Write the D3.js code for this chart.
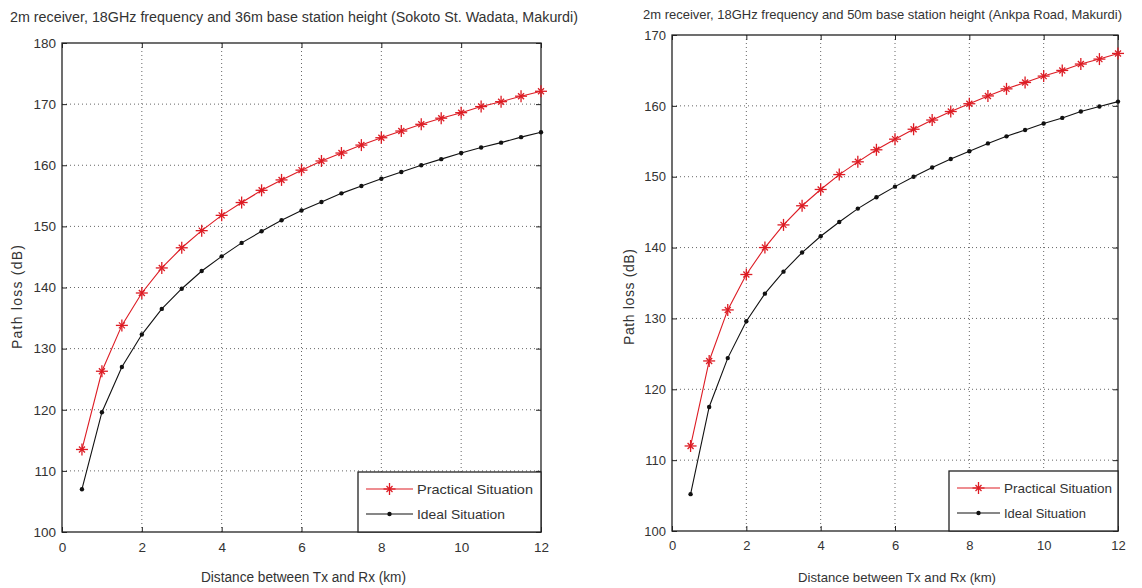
<!DOCTYPE html>
<html>
<head>
<meta charset="utf-8">
<script src="https://cdn.jsdelivr.net/npm/d3@7"></script>
<style>
  body { margin: 0; background: #fff; }
  svg text { font-family: "Liberation Sans Narrow", "Arial Narrow", "Liberation Sans", Arial, sans-serif; fill: #333; }
</style>
</head>
<body>
<svg id="chart" width="1142" height="588"></svg>
<script>
// distances (km), shared by both panels
var distances = [0.5, 1, 1.5, 2, 2.5, 3, 3.5, 4, 4.5, 5, 5.5, 6,
                 6.5, 7, 7.5, 8, 8.5, 9, 9.5, 10, 10.5, 11, 11.5, 12];

// left panel: Sokoto St. Wadata
var sokotoPractical = [113.5, 126.3, 133.8, 139.1, 143.2, 146.5, 149.3, 151.8, 153.9, 155.9, 157.6, 159.2,
                       160.7, 162.0, 163.3, 164.5, 165.6, 166.7, 167.7, 168.6, 169.6, 170.4, 171.3, 172.1];
var sokotoIdeal = [107.0, 119.6, 127.0, 132.3, 136.5, 139.8, 142.7, 145.1, 147.3, 149.2, 151.0, 152.6,
                   154.0, 155.4, 156.6, 157.8, 158.9, 160.0, 161.0, 162.0, 162.9, 163.7, 164.6, 165.4];

// right panel: Ankpa Road
var ankpaPractical = [112.0, 124.0, 131.2, 136.2, 140.0, 143.2, 145.9, 148.2, 150.3, 152.1, 153.8, 155.3,
                      156.7, 158.0, 159.2, 160.3, 161.4, 162.4, 163.3, 164.2, 165.0, 165.9, 166.6, 167.4];
var ankpaIdeal = [105.2, 117.5, 124.4, 129.6, 133.5, 136.6, 139.3, 141.6, 143.6, 145.5, 147.1, 148.6,
                  150.0, 151.3, 152.5, 153.6, 154.7, 155.7, 156.6, 157.5, 158.3, 159.2, 159.9, 160.6];

var xTicks = [0, 2, 4, 6, 8, 10, 12];
var sokotoYTicks = [100, 110, 120, 130, 140, 150, 160, 170, 180];
var ankpaYTicks = [100, 110, 120, 130, 140, 150, 160, 170];

var seriesNames = ["Practical Situation", "Ideal Situation"];
var redColor = "#dd1c24";

var svg = d3.select("#chart");

// '*' marker, as drawn by the plotting tool
function drawStar(sel, cx, cy) {
    var s = sel.append("g").attr("transform", "translate(" + cx + "," + cy + ")");
    s.append("line").attr("x1", -6).attr("x2", 6).attr("y1", 0).attr("y2", 0);
    s.append("line").attr("x1", 0).attr("x2", 0).attr("y1", -6).attr("y2", 6);
    s.append("line").attr("x1", -3).attr("x2", 3).attr("y1", -3).attr("y2", 3);
    s.append("line").attr("x1", -3).attr("x2", 3).attr("y1", 3).attr("y2", -3);
    s.selectAll("line").attr("stroke", redColor).attr("stroke-width", 1.3);
}

function drawPanel(p) {
    var g = svg.append("g");
    var x = d3.scaleLinear().domain([0, 12]).range([p.left, p.right]);
    var y = d3.scaleLinear().domain(p.yDomain).range([p.bottom, p.top]);

    // dotted grid
    g.append("g").selectAll("line")
        .data(xTicks.slice(1, -1)).enter().append("line")
        .attr("x1", function (d) { return x(d); }).attr("x2", function (d) { return x(d); })
        .attr("y1", p.top).attr("y2", p.bottom)
        .attr("stroke", "#666").attr("stroke-width", 1).attr("stroke-dasharray", "1,3");
    g.append("g").selectAll("line")
        .data(p.yTicks.slice(1, -1)).enter().append("line")
        .attr("y1", function (d) { return y(d); }).attr("y2", function (d) { return y(d); })
        .attr("x1", p.left).attr("x2", p.right)
        .attr("stroke", "#666").attr("stroke-width", 1).attr("stroke-dasharray", "1,3");

    // axes with inward ticks on all four sides
    g.append("g").attr("transform", "translate(0," + p.bottom + ")")
        .call(d3.axisBottom(x).tickValues(xTicks).tickSizeInner(-5).tickSizeOuter(0).tickPadding(10));
    g.append("g").attr("transform", "translate(" + p.left + ",0)")
        .call(d3.axisLeft(y).tickValues(p.yTicks).tickSizeInner(-5).tickSizeOuter(0).tickPadding(6));
    g.append("g").attr("transform", "translate(0," + p.top + ")")
        .call(d3.axisTop(x).tickValues(xTicks).tickSizeInner(-5).tickSizeOuter(0).tickFormat(""));
    g.append("g").attr("transform", "translate(" + p.right + ",0)")
        .call(d3.axisRight(y).tickValues(p.yTicks).tickSizeInner(-5).tickSizeOuter(0).tickFormat(""));
    g.selectAll(".domain").remove();
    g.selectAll(".tick line").attr("stroke", "#222");
    g.selectAll(".tick text").attr("font-size", p.tickFont).style("fill", "#333");

    g.append("rect")
        .attr("x", p.left).attr("y", p.top)
        .attr("width", p.right - p.left).attr("height", p.bottom - p.top)
        .attr("fill", "none").attr("stroke", "#222").attr("stroke-width", 1.3);

    var line = d3.line()
        .x(function (d) { return x(d[0]); })
        .y(function (d) { return y(d[1]); });

    var ideal = d3.zip(distances, p.ideal);
    var practical = d3.zip(distances, p.practical);

    g.append("path").datum(ideal).attr("d", line)
        .attr("fill", "none").attr("stroke", "#111").attr("stroke-width", 1.1);
    g.append("g").selectAll("circle").data(ideal).enter().append("circle")
        .attr("cx", function (d) { return x(d[0]); })
        .attr("cy", function (d) { return y(d[1]); })
        .attr("r", 2.2).attr("fill", "#111");

    g.append("path").datum(practical).attr("d", line)
        .attr("fill", "none").attr("stroke", redColor).attr("stroke-width", 1.1);
    var stars = g.append("g");
    practical.forEach(function (d) { drawStar(stars, x(d[0]), y(d[1])); });

    // titles
    g.append("text")
        .attr("x", p.titleX).attr("y", p.titleY)
        .attr("font-size", p.titleFont)
        .attr("textLength", p.titleWidth).attr("lengthAdjust", "spacingAndGlyphs")
        .text(p.title);
    g.append("text")
        .attr("x", (p.left + p.right) / 2 + 2).attr("y", 582)
        .attr("text-anchor", "middle").attr("font-size", p.xLabelFont)
        .attr("textLength", p.xLabelWidth).attr("lengthAdjust", "spacingAndGlyphs")
        .text("Distance between Tx and Rx (km)");
    g.append("text")
        .attr("transform", "translate(" + p.yLabelX + "," + p.yLabelY + ")rotate(-90)")
        .attr("text-anchor", "middle").attr("font-size", 14)
        .attr("textLength", p.yLabelWidth).attr("lengthAdjust", "spacing")
        .text("Path loss (dB)");

    // legend
    var lg = g.append("g");
    lg.append("rect")
        .attr("x", p.legend[0]).attr("y", p.legend[1])
        .attr("width", p.right - p.legend[0]).attr("height", p.bottom - p.legend[1])
        .attr("fill", "#fff").attr("stroke", "#222").attr("stroke-width", 1.3);
    var rowY = [p.legend[1] + 17, p.legend[1] + 42];
    var colors = [redColor, "#111"];
    seriesNames.forEach(function (name, i) {
        var x0 = p.legend[0] + 8, x1 = x0 + p.legendLine;
        lg.append("line").attr("x1", x0).attr("x2", x1)
            .attr("y1", rowY[i]).attr("y2", rowY[i])
            .attr("stroke", colors[i]).attr("stroke-width", 1.1);
        var mx = (x0 + x1) / 2;
        if (i === 0) {
            drawStar(lg, mx, rowY[i]);
        } else {
            lg.append("circle").attr("cx", mx).attr("cy", rowY[i]).attr("r", 2.2).attr("fill", "#111");
        }
        lg.append("text")
            .attr("x", x1 + 4).attr("y", rowY[i] + 5)
            .attr("font-size", p.tickFont)
            .attr("textLength", p.legendText[i]).attr("lengthAdjust", "spacingAndGlyphs")
            .text(name);
    });
}

drawPanel({
    left: 62, right: 541, top: 43, bottom: 532,
    yDomain: [100, 180], yTicks: sokotoYTicks,
    practical: sokotoPractical, ideal: sokotoIdeal,
    title: "2m receiver, 18GHz frequency and 36m base station height (Sokoto St. Wadata, Makurdi)",
    titleX: 10, titleY: 22, titleFont: 14, titleWidth: 568,
    tickFont: 13.5, xLabelFont: 14, xLabelWidth: 205,
    yLabelX: 22, yLabelY: 297, yLabelWidth: 104,
    legend: [358, 472], legendLine: 47, legendText: [116, 88]
});

drawPanel({
    left: 672, right: 1118, top: 35, bottom: 531,
    yDomain: [100, 170], yTicks: ankpaYTicks,
    practical: ankpaPractical, ideal: ankpaIdeal,
    title: "2m receiver, 18GHz frequency and 50m base station height (Ankpa Road, Makurdi)",
    titleX: 643, titleY: 19, titleFont: 13, titleWidth: 479,
    tickFont: 13, xLabelFont: 13.5, xLabelWidth: 198,
    yLabelX: 634, yLabelY: 297, yLabelWidth: 96,
    legend: [949, 471], legendLine: 43, legendText: [108, 82]
});
</script>
</body>
</html>
